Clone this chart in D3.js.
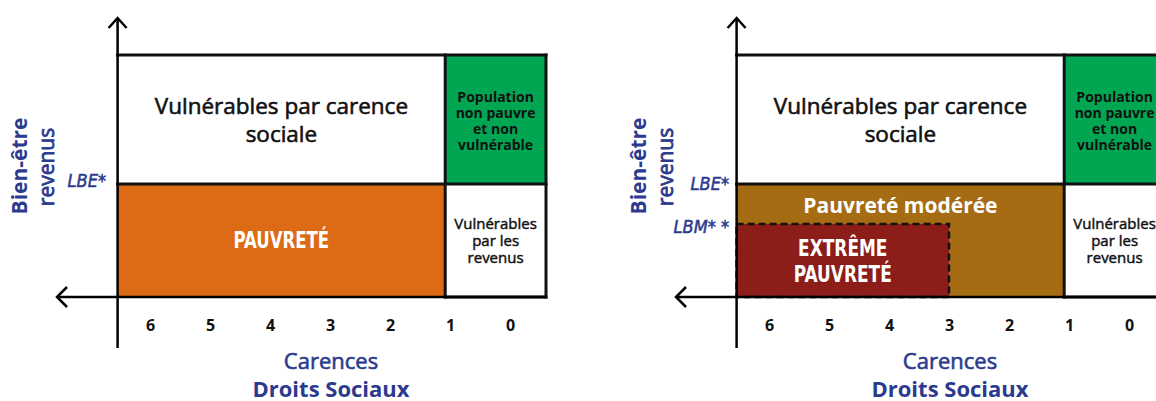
<!DOCTYPE html>
<html><head><meta charset="utf-8">
<script src="https://cdn.jsdelivr.net/npm/d3@7"></script>
<style>
html,body{margin:0;padding:0;background:#fff;overflow:hidden}
svg{display:block;font-family:"Open Sans",sans-serif}
</style></head>
<body>
<svg id="c" width="1156" height="401"></svg>
<script>
// ---- data ----
const carenceTicks = [6, 5, 4, 3, 2, 1, 0];
const tickLabels = ["6", "5", "4", "3", "2", "1", "0"];
const carenceExtent = [6.54, -0.6];   // axis origin, right edge of frame (in carence units)
const carenceSplit = 1.08;            // boundary with "no deprivation" column
const extremeCarence = 3;             // extreme poverty up to 3 carences
const revenuLevels = [0, 100];        // income axis range
const thresholdNames = ["LBE*", "LBM* *"];
const thresholdValues = [46.7, 30.2];
const zoneNamesLeft = ["Vulnérables par carence sociale", "Population non pauvre et non vulnérable", "PAUVRETÉ", "Vulnérables par les revenus"];
const zoneNamesRight = ["Vulnérables par carence sociale", "Population non pauvre et non vulnérable", "Pauvreté modérée", "Vulnérables par les revenus", "EXTRÊME PAUVRETÉ"];
const panelOffsets = [0, 619];

const NAVY = "#2C3A8E";
const COND = "DejaVu Sans Condensed";
const svg = d3.select("#c");

const x = d3.scaleLinear().domain([6, 0]).range([150, 510]);
const y = d3.scaleLinear().domain(revenuLevels).range([297, 55]);

function multiline(g, lines, cx, baseline0, step, attrs, sx) {
  sx = sx || 1;
  const t = g.append("text").attr("text-anchor", "middle");
  if (sx !== 1) t.attr("transform", `translate(${cx},0) scale(${sx},1) translate(${-cx},0)`);
  Object.entries(attrs).forEach(([k, v]) => t.attr(k, v));
  lines.forEach((l, i) => t.append("tspan").attr("x", cx).attr("y", baseline0 + i * step).text(l));
  return t;
}

function drawPanel(offset, right) {
  const g = svg.append("g").attr("transform", `translate(${offset},0)`);
  const x0 = x(carenceExtent[0]), x1 = x(carenceExtent[1]), xs = x(carenceSplit);
  const yTop = y(revenuLevels[1]), yBot = y(revenuLevels[0]), yLBE = y(thresholdValues[0]);
  const names = right ? zoneNamesRight : zoneNamesLeft;

  const zones = [
    {c0: carenceExtent[0], c1: carenceSplit, r0: thresholdValues[0], r1: revenuLevels[1], fill: "#fff"},
    {c0: carenceSplit, c1: carenceExtent[1], r0: thresholdValues[0], r1: revenuLevels[1], fill: "#00A651"},
    {c0: carenceExtent[0], c1: carenceSplit, r0: revenuLevels[0], r1: thresholdValues[0], fill: right ? "#A66C14" : "#DD6A15"},
    {c0: carenceSplit, c1: carenceExtent[1], r0: revenuLevels[0], r1: thresholdValues[0], fill: "#fff"}
  ];
  g.selectAll("rect.zone").data(zones).join("rect").attr("class", "zone")
    .attr("x", d => x(d.c0)).attr("y", d => y(d.r1))
    .attr("width", d => x(d.c1) - x(d.c0)).attr("height", d => y(d.r0) - y(d.r1))
    .attr("fill", d => d.fill);

  if (right) {
    const yLBM = y(thresholdValues[1]);
    g.append("rect").attr("x", x0).attr("y", yLBM)
      .attr("width", x(extremeCarence) - x0).attr("height", yBot - yLBM)
      .attr("fill", "#8C1D19").attr("stroke", "#111").attr("stroke-width", 2.5)
      .attr("stroke-dasharray", "7,4");
  }

  // frame lines
  const lines = [
    [x0, yTop, x1, yTop], [x1, yTop, x1, yBot], [xs, yTop, xs, yBot],
    [x0, yLBE, x1, yLBE], [xs, yBot, x1, yBot]
  ];
  g.selectAll("line.frame").data(lines).join("line").attr("class", "frame")
    .attr("x1", d => d[0]).attr("y1", d => d[1]).attr("x2", d => d[2]).attr("y2", d => d[3])
    .attr("stroke", "#111").attr("stroke-width", 3).attr("stroke-linecap", "square");

  // axes
  g.append("line").attr("x1", x0).attr("y1", 18).attr("x2", x0).attr("y2", 348)
    .attr("stroke", "#000").attr("stroke-width", 2.5);
  g.append("line").attr("x1", 57).attr("y1", yBot).attr("x2", x1).attr("y2", yBot)
    .attr("stroke", "#000").attr("stroke-width", 2.5);
  g.append("path").attr("d", `M${x0 - 9},28 L${x0},18 L${x0 + 9},28`)
    .attr("fill", "none").attr("stroke", "#000").attr("stroke-width", 2.5);
  g.append("path").attr("d", `M67,287 L57,${yBot} L67,307`)
    .attr("fill", "none").attr("stroke", "#000").attr("stroke-width", 2.5);

  const ax = d3.axisBottom(x).tickValues(carenceTicks).tickFormat((d, i) => tickLabels[i])
    .tickSize(0).tickPadding(23);
  const axg = g.append("g").attr("transform", `translate(0,${yBot})`).call(ax);
  axg.select(".domain").remove();
  axg.selectAll("text").attr("font-family", "Open Sans").attr("font-weight", 700)
    .attr("font-size", 16).attr("fill", "#111");

  // zone labels
  const cxMain = (x0 + xs) / 2, cxSide = (xs + x1) / 2;
  multiline(g, ["Vulnérables par carence", "sociale"], cxMain, 114, 28,
    {"font-size": 22.5, fill: "#111", stroke: "#111", "stroke-width": 0.6});
  multiline(g, ["Population", "non pauvre", "et non", "vulnérable"], cxSide, 102, 16,
    {"font-size": 14, "font-weight": 700, fill: "#111"});
  multiline(g, ["Vulnérables", "par les", "revenus"], cxSide, 229, 17,
    {"font-size": 15, fill: "#111", stroke: "#111", "stroke-width": 0.45});
  if (!right) {
    multiline(g, [names[2]], cxMain, 248, 0,
      {"font-size": 23, "font-weight": 700, fill: "#fff", "font-family": COND}, 0.8);
  } else {
    multiline(g, [names[2]], cxMain, 213, 0,
      {"font-size": 21, "font-weight": 700, fill: "#fff"});
    const cxE = (x0 + x(extremeCarence)) / 2;
    multiline(g, ["EXTRÊME", "PAUVRETÉ"], cxE, 256, 26.5,
      {"font-size": 23, "font-weight": 700, fill: "#fff", "font-family": COND}, 0.82);
  }

  // threshold labels
  const th = right ? [0, 1] : [0];
  th.forEach(i => {
    g.append("text").attr("x", i === 0 ? (right ? 110 : 106) : 110)
      .attr("y", i === 0 ? (right ? 190 : 187) : 233)
      .attr("text-anchor", "end").attr("font-family", COND)
      .attr("font-style", "italic").attr("font-size", 18).attr("fill", NAVY)
      .attr("stroke", NAVY).attr("stroke-width", 0.5)
      .text(thresholdNames[i]);
  });

  // axis titles
  g.append("text").attr("transform", "translate(27,166) rotate(-90)").attr("text-anchor", "middle")
    .attr("font-size", 21).attr("font-weight", 700).attr("fill", NAVY).text("Bien-être");
  g.append("text").attr("transform", "translate(54,167) rotate(-90)").attr("text-anchor", "middle")
    .attr("font-size", 21).attr("fill", NAVY).attr("stroke", NAVY).attr("stroke-width", 0.8).text("revenus");
  g.append("text").attr("x", 331).attr("y", 369).attr("text-anchor", "middle")
    .attr("font-size", 22).attr("fill", NAVY).attr("stroke", NAVY).attr("stroke-width", 0.6).text("Carences");
  g.append("text").attr("x", 331).attr("y", 397).attr("text-anchor", "middle")
    .attr("font-size", 22).attr("font-weight", 700).attr("fill", NAVY).text("Droits Sociaux");
}

panelOffsets.forEach((o, i) => drawPanel(o, i === 1));
</script>
</body></html>
